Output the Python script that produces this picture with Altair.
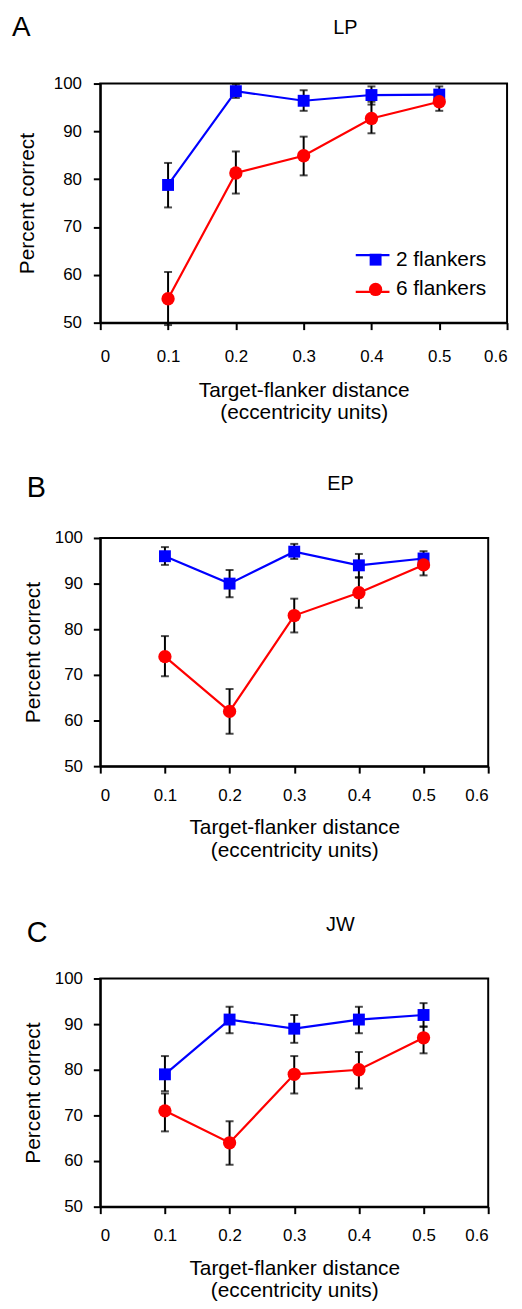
import altair as alt
import pandas as pd

FONT = "Liberation Sans"

# ---- shared values ----
x_vals = [0.1, 0.2, 0.3, 0.4, 0.5]
series_names = ["2 flankers", "6 flankers"]
series_colors = ["#0000ff", "#ff0000"]
series_shapes = ["square", "circle"]
series_sizes = [144, 180]
x_ticks = [0, 0.1, 0.2, 0.3, 0.4, 0.5, 0.6]
y_ticks = [50, 60, 70, 80, 90, 100]
panel_letters = ["A", "B", "C"]
subjects = ["LP", "EP", "JW"]
x_title = ["Target-flanker distance", "(eccentricity units)"]
y_title = "Percent correct"

# ---- panel A: LP ----
lp_2_mean = [78.8, 98.4, 96.4, 97.6, 97.7]
lp_2_lo = [74.1, 97.0, 94.3, 95.6, 95.8]
lp_2_hi = [83.4, 99.8, 98.6, 99.4, 99.4]
lp_6_mean = [55.0, 81.3, 84.9, 92.7, 96.2]
lp_6_lo = [49.5, 77.0, 80.8, 89.6, 94.3]
lp_6_hi = [60.6, 85.8, 88.9, 96.2, 98.2]

# ---- panel B: EP ----
ep_2_mean = [96.0, 90.0, 97.0, 94.0, 95.5]
ep_2_lo = [94.1, 87.0, 95.4, 91.3, 93.8]
ep_2_hi = [98.0, 93.0, 98.7, 96.5, 97.1]
ep_6_mean = [74.0, 62.0, 83.0, 88.0, 94.1]
ep_6_lo = [69.7, 57.1, 79.3, 84.7, 91.8]
ep_6_hi = [78.5, 66.9, 86.7, 91.4, 96.4]

# ---- panel C: JW ----
jw_2_mean = [79.0, 91.0, 89.0, 91.0, 92.0]
jw_2_lo = [75.3, 88.0, 85.9, 88.0, 89.4]
jw_2_hi = [83.0, 93.8, 92.0, 93.8, 94.6]
jw_6_mean = [71.0, 64.0, 79.0, 80.0, 87.0]
jw_6_lo = [66.5, 59.2, 74.8, 75.9, 83.6]
jw_6_hi = [74.8, 68.7, 83.0, 83.9, 89.5]


def make_panel(letter, subject, m2, lo2, hi2, m6, lo6, hi6, w, h, show_legend,
               letter_xy, letter_size, subject_xy, xlabel_pad, xtitle_pad,
               ylabel_pad, ytitle_pad):
    df = pd.DataFrame({
        "x": x_vals + x_vals,
        "series": [series_names[0]] * len(x_vals) + [series_names[1]] * len(x_vals),
        "y": m2 + m6,
        "lo": lo2 + lo6,
        "hi": hi2 + hi6,
    })
    base = alt.Chart(df)
    xs = alt.Scale(domain=[0, 0.6], nice=False, zero=False)
    ys = alt.Scale(domain=[50, 100], nice=False, zero=False)
    xenc = alt.X("x:Q", scale=xs, title=x_title,
                 axis=alt.Axis(values=x_ticks, format="~g", labelPadding=xlabel_pad,
                               titlePadding=xtitle_pad, titleLineHeight=23))
    yaxis = alt.Axis(values=y_ticks, labelPadding=ylabel_pad, titlePadding=ytitle_pad)

    def yenc(field):
        return alt.Y(field, scale=ys, title=y_title, axis=yaxis)

    if show_legend:
        # line part of the legend key (no label text; labels come from the marker legend)
        leg_line = alt.Legend(title=None, orient="none", legendX=256, legendY=154.5,
                              values=series_names,
                              symbolType="stroke", symbolSize=1156, symbolStrokeWidth=2.2,
                              labelFont=FONT, labelFontSize=21, labelExpr="''",
                              labelOffset=6, rowPadding=8, padding=0)
        # marker part of the legend key + labels
        leg_mark = alt.Legend(title=None, orient="none", legendX=267, legendY=167,
                              symbolStrokeWidth=0,
                              labelFont=FONT, labelFontSize=21, labelColor="black",
                              labelOffset=10, rowPadding=8, padding=0)
    else:
        leg_line = None
        leg_mark = None

    err = base.mark_errorbar(ticks=True, color="black", thickness=2, size=8).encode(
        x=xenc, y=yenc("lo:Q"), y2="hi:Q")
    # reversed domain order keeps this scale distinct so its legend is not merged
    lines = base.mark_line(strokeWidth=2.2).encode(
        x=xenc, y=yenc("y:Q"),
        color=alt.Color("series:N",
                        scale=alt.Scale(domain=series_names[::-1], range=series_colors[::-1]),
                        legend=leg_line))
    points = base.mark_point(filled=True, opacity=1, strokeWidth=0).encode(
        x=xenc, y=yenc("y:Q"),
        fill=alt.Fill("series:N", scale=alt.Scale(domain=series_names, range=series_colors),
                      legend=leg_mark),
        shape=alt.Shape("series:N", scale=alt.Scale(domain=series_names, range=series_shapes),
                        legend=leg_mark),
        size=alt.Size("series:N", scale=alt.Scale(domain=series_names, range=series_sizes),
                      legend=leg_mark),
    )

    letter_mark = alt.Chart(pd.DataFrame({"t": [letter]})).mark_text(
        font=FONT, fontSize=letter_size, align="left", baseline="alphabetic",
        color="black").encode(text="t:N", x=alt.value(letter_xy[0]), y=alt.value(letter_xy[1]))
    subject_mark = alt.Chart(pd.DataFrame({"t": [subject]})).mark_text(
        font=FONT, fontSize=20, align="center", baseline="alphabetic",
        color="black").encode(text="t:N", x=alt.value(subject_xy[0]), y=alt.value(subject_xy[1]))

    return alt.layer(err, lines, points, letter_mark, subject_mark).properties(width=w, height=h)


pA = make_panel(panel_letters[0], subjects[0], lp_2_mean, lp_2_lo, lp_2_hi,
                lp_6_mean, lp_6_lo, lp_6_hi, 410, 241, True,
                (-89, -48), 28, (247, -50), 19, 15, 12, 16)
pB = make_panel(panel_letters[1], subjects[1], ep_2_mean, ep_2_lo, ep_2_hi,
                ep_6_mean, ep_6_lo, ep_6_hi, 391, 230, False,
                (-74, -41), 29, (242, -48), 14.5, 13.5, 11, 11)
pC = make_panel(panel_letters[2], subjects[2], jw_2_mean, jw_2_lo, jw_2_hi,
                jw_6_mean, jw_6_lo, jw_6_hi, 391, 230, False,
                (-74, -37), 29, (242, -48), 14.5, 13.5, 11, 11)

lower = alt.vconcat(pB, pC, spacing=53)
chart = alt.vconcat(pA, lower, spacing=50).resolve_scale(
    color="independent", fill="independent", shape="independent", size="independent"
).properties(
    padding={"left": 3, "top": 0, "right": 5, "bottom": 5},
    background="white",
).configure_view(
    stroke="black", strokeWidth=2
).configure_axis(
    domainColor="black", domainWidth=2, tickColor="black", tickWidth=2, tickSize=7,
    labelFont=FONT, labelFontSize=17, labelColor="black",
    titleFont=FONT, titleFontSize=21, titleFontWeight="normal", titleColor="black",
    grid=False,
)

chart.save("out.html", embed_options={"renderer": "svg", "actions": False})
